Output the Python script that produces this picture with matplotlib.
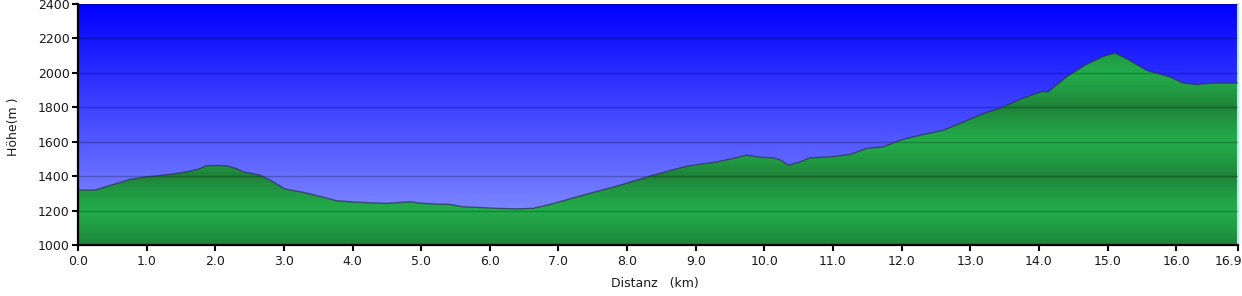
import numpy as np
import matplotlib
matplotlib.use("Agg")
import matplotlib.pyplot as plt
from matplotlib.patches import Polygon

# ---- data ----
distance_km = [0.0, 0.25, 0.5, 0.76, 1.0, 1.34, 1.58, 1.75, 1.87, 2.0, 2.17, 2.3, 2.41,
               2.65, 2.8, 3.02, 3.28, 3.5, 3.77, 4.0, 4.25, 4.5, 4.84, 5.0, 5.18, 5.42,
               5.61, 5.85, 6.1, 6.39, 6.63, 6.88, 7.36, 7.85, 8.33, 8.87, 9.31, 9.5,
               9.74, 9.95, 10.13, 10.23, 10.35, 10.5, 10.66, 10.96, 11.25, 11.49, 11.73,
               11.98, 12.27, 12.61, 12.9, 13.19, 13.48, 13.72, 13.92, 14.06, 14.13, 14.4,
               14.69, 14.94, 15.11, 15.28, 15.57, 15.91, 16.1, 16.3, 16.54, 16.9]
elevation_m = [1319, 1319, 1350, 1381, 1396, 1410, 1425, 1440, 1460, 1462, 1460, 1445, 1425,
               1406, 1377, 1325, 1306, 1285, 1257, 1250, 1245, 1242, 1251, 1243, 1238, 1236,
               1222, 1218, 1213, 1210, 1213, 1236, 1290, 1342, 1400, 1458, 1483, 1499,
               1522, 1510, 1506, 1495, 1464, 1480, 1506, 1512, 1526, 1561, 1570,
               1609, 1638, 1667, 1715, 1763, 1802, 1845, 1875, 1893, 1889, 1976,
               2049, 2096, 2115, 2082, 2014, 1976, 1941, 1932, 1941, 1941]

x_ticks = [0, 1, 2, 3, 4, 5, 6, 7, 8, 9, 10, 11, 12, 13, 14, 15, 16, 16.9]
x_tick_labels = ["0.0", "1.0", "2.0", "3.0", "4.0", "5.0", "6.0", "7.0", "8.0", "9.0",
                 "10.0", "11.0", "12.0", "13.0", "14.0", "15.0", "16.0", "16.9"]
y_ticks = [1000, 1200, 1400, 1600, 1800, 2000, 2200, 2400]

W, H = 1242, 296
fig = plt.figure(figsize=(W / 100, H / 100), dpi=100)
ax = fig.add_axes([78 / W, 1 - 245 / H, (1238 - 78) / W, (245 - 4) / H])

xmin, xmax, ymin, ymax = 0, 16.9, 1000, 2400
ax.set_xlim(xmin, xmax)
ax.set_ylim(ymin, ymax)

# sky gradient
n = 400
t = np.linspace(0, 1, n)[:, None]  # 0 top -> 1 bottom
top = np.array([0, 0, 255]) / 255
bot = np.array([145, 155, 255]) / 255
sky = top + (bot - top) * t
sky = np.repeat(sky[:, None, :], 2, axis=1)
ax.imshow(sky, extent=[xmin, xmax, ymin, ymax], aspect="auto", origin="upper",
          zorder=0, interpolation="bilinear")

# green banded gradient (triangle wave, period 400 m)
hv = np.linspace(ymin, ymax, 1400)
phase = ((hv - 1000) % 400) / 200.0
tri = np.where(phase <= 1, phase, 2 - phase)  # 0 dark at 1000+400k, 1 light at 1200+400k
tri = tri ** 0.7
dark = np.array([31, 126, 56]) / 255
light = np.array([35, 172, 75]) / 255
green = dark + (light - dark) * tri[:, None]
green = np.repeat(green[:, None, :], 2, axis=1)
im = ax.imshow(green, extent=[xmin, xmax, ymin, ymax], aspect="auto", origin="lower",
               zorder=1, interpolation="bilinear")
verts = [(distance_km[0], ymin)] + list(zip(distance_km, elevation_m)) + [(distance_km[-1], ymin)]
poly = Polygon(verts, closed=True, facecolor="none", edgecolor="none", transform=ax.transData)
ax.add_patch(poly)
im.set_clip_path(poly)

ax.plot(distance_km, elevation_m, color="#2a3250", lw=1.0, alpha=0.7, zorder=3)

# grid
ax.set_yticks(y_ticks)
ax.yaxis.grid(True, color="black", alpha=0.25, lw=1.0, zorder=2)
ax.set_axisbelow(False)

ax.set_xticks(x_ticks)
ax.set_xticklabels(x_tick_labels)

ax.spines["top"].set_visible(False)
ax.spines["right"].set_color("#b0e8f0")
ax.spines["right"].set_linewidth(1.5)
for s in ["left", "bottom"]:
    ax.spines[s].set_linewidth(1.6)
    ax.spines[s].set_color("black")
    ax.spines[s].set_zorder(5)

ax.tick_params(axis="both", direction="out", length=4, width=1.5, labelsize=9,
               labelcolor="#1a1a1a", color="black")
ax.tick_params(axis="y", pad=2)
ax.tick_params(axis="x", pad=3)
last = ax.get_xticklabels()[-1]
last.set_horizontalalignment("right")
last.set_x(16.9)
import matplotlib.transforms as mtransforms
last.set_transform(last.get_transform() + mtransforms.ScaledTranslation(4 / 100, 0, fig.dpi_scale_trans))

fig.text(14 / W, 1 - 127 / H, "Höhe(m )", rotation=90, ha="center", va="center",
         fontsize=9, color="#1a1a1a")
fig.text(655 / W, 1 - 284 / H, "Distanz   (km)", ha="center", va="center",
         fontsize=9, color="#1a1a1a")

fig.savefig("out.png", dpi=100)
